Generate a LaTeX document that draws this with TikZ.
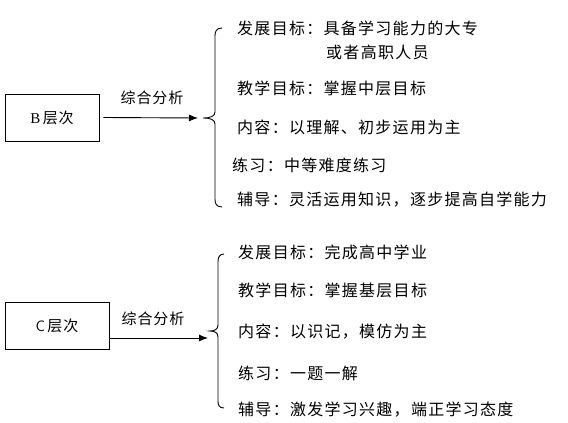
\documentclass[tikz,border=0pt]{standalone}
\usepackage{fontspec}
\setmainfont{Liberation Serif}
\newfontfamily\cjk[LetterSpace=8]{Noto Sans CJK SC}
\newfontfamily\cjklab[LetterSpace=6]{Noto Sans CJK SC}
\usetikzlibrary{arrows.meta}
\tikzset{
  levelbox/.style={draw=black, line width=0.9pt, minimum width=#1, minimum height=47pt, inner sep=0pt, font=\fontsize{15}{17}\selectfont},
  item/.style={anchor=west, inner sep=0pt, align=left, font=\cjk\fontsize{16}{24}\selectfont},
  lab/.style={inner sep=0pt, font=\cjklab\fontsize{15}{17}\selectfont},
  conn/.style={line width=0.9pt, -{Latex[length=9pt,width=7pt]}},
  bracepath/.style={line width=0.9pt}
}
\begin{document}
\begin{tikzpicture}[x=1pt,y=-1pt]
\useasboundingbox (0,0) rectangle (568,423);
% ---------- B level ----------
\node[levelbox=94pt] (bbox) at (52,117.5) {B\,{\cjklab 层次}};
\coordinate (barrow) at (198,118);
\draw[conn] ([xshift=4pt]bbox.east) -- (barrow);
\node[lab] (blab) at (152,98) {综合分析};
\coordinate (btip) at (203,118);
\draw[bracepath] (222,28) .. controls (216,28) and (215,32) .. (215,36) -- (215,112)
  .. controls (215,116) and (211,118) .. (btip)
  .. controls (211,118) and (215,120) .. (215,124) -- (215,199)
  .. controls (215,203) and (216,207) .. (222,207);
\node[item] (b1) at (237,28) {发展目标：具备学习能力的大专};
\node[item] (b1b) at (326,52) {或者高职人员};
\node[item] (b2) at (237,88) {教学目标：掌握中层目标};
\node[item] (b3) at (237,127) {内容：以理解、初步运用为主};
\node[item] (b4) at (232,165) {练习：中等难度练习};
\node[item] (b5) at (237,200) {辅导：灵活运用知识，逐步提高自学能力};
% ---------- C level ----------
\node[levelbox=104pt] (cbox) at (57,326) {{\sffamily C}\,{\cjklab 层次}};
\coordinate (carrow) at (208,338);
\draw[conn] (cbox.east |- carrow) -- (carrow);
\node[lab] (clab) at (153,319) {综合分析};
\coordinate (ctip) at (210,331);
\draw[bracepath] (224,254) .. controls (219,254) and (218,258) .. (218,262) -- (218,325)
  .. controls (218,329) and (215,331) .. (ctip)
  .. controls (215,331) and (218,333) .. (218,337) -- (218,401)
  .. controls (218,405) and (219,408) .. (224,408);
\node[item] (c1) at (238,252) {发展目标：完成高中学业};
\node[item] (c2) at (238,290) {教学目标：掌握基层目标};
\node[item] (c3) at (238,332) {内容：以识记，模仿为主};
\node[item] (c4) at (238,373) {练习：一题一解};
\node[item] (c5) at (238,410) {辅导：激发学习兴趣，端正学习态度};
\end{tikzpicture}
\end{document}
